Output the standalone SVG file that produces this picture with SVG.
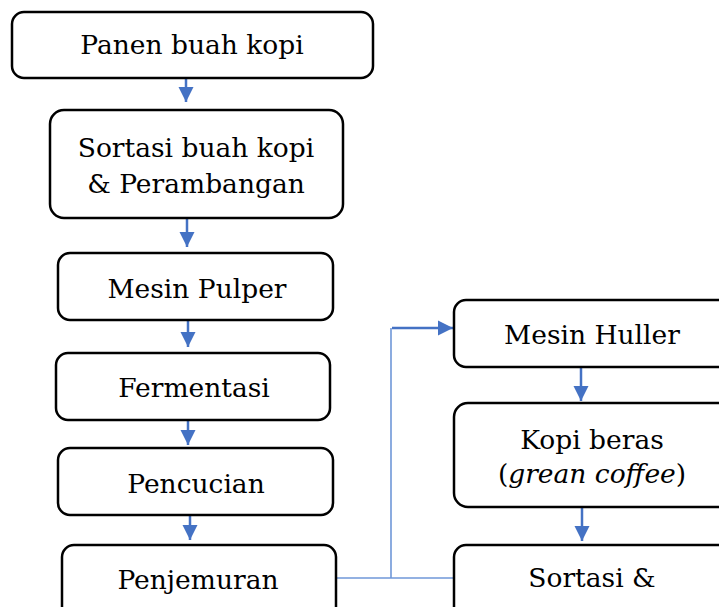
<svg xmlns="http://www.w3.org/2000/svg" width="719" height="607" viewBox="0 0 719 607">
<style>
.box{fill:#ffffff;stroke:#000000;stroke-width:2.5}
.t{font-family:"DejaVu Serif","Liberation Serif",serif;font-size:26.5px;fill:#000000;text-anchor:middle}
.arr{stroke:#4472C4;stroke-width:2.5;fill:none}
.thin{stroke:#6F97D8;stroke-width:1.6;fill:none}
</style>
<defs>
<marker id="ah" markerUnits="userSpaceOnUse" markerWidth="16" markerHeight="16" refX="15" refY="8" orient="auto" viewBox="0 0 16 16">
<path d="M0,0.5 L15,8 L0,15.5 Z" fill="#4472C4"/>
</marker>
</defs>
<rect width="719" height="607" fill="#ffffff"/>
<g id="connectors">
<line class="arr" x1="186" y1="78" x2="186" y2="102" marker-end="url(#ah)"/>
<line class="arr" x1="187" y1="218" x2="187" y2="247" marker-end="url(#ah)"/>
<line class="arr" x1="188" y1="320" x2="188" y2="347" marker-end="url(#ah)"/>
<line class="arr" x1="188" y1="420" x2="188" y2="445" marker-end="url(#ah)"/>
<line class="arr" x1="190" y1="515" x2="190" y2="540" marker-end="url(#ah)"/>
<line class="arr" x1="581" y1="367" x2="581" y2="401" marker-end="url(#ah)"/>
<line class="arr" x1="582" y1="507" x2="582" y2="541" marker-end="url(#ah)"/>
<polyline class="thin" points="336,578 454,578"/>
<polyline class="thin" points="391,578 391,328"/>
<line class="arr" x1="392" y1="328" x2="453" y2="328" marker-end="url(#ah)"/>
</g>
<g id="n1"><rect class="box" x="12" y="12" width="361" height="66" rx="12"/><text class="t" x="192" y="54">Panen buah kopi</text></g>
<g id="n2"><rect class="box" x="50" y="110" width="293" height="108" rx="14"/><text class="t" x="196" y="157">Sortasi buah kopi</text><text class="t" x="196" y="193">&amp; Perambangan</text></g>
<g id="n3"><rect class="box" x="58" y="253" width="275" height="67" rx="12"/><text class="t" x="197" y="298">Mesin Pulper</text></g>
<g id="n4"><rect class="box" x="56" y="353" width="274" height="67" rx="12"/><text class="t" x="194" y="397">Fermentasi</text></g>
<g id="n5"><rect class="box" x="58" y="448" width="275" height="67" rx="12"/><text class="t" x="196" y="493">Pencucian</text></g>
<g id="n6"><rect class="box" x="62" y="545" width="274" height="80" rx="12"/><text class="t" x="198" y="589">Penjemuran</text></g>
<g id="n7"><rect class="box" x="454" y="300" width="280" height="67" rx="12"/><text class="t" x="592" y="344">Mesin Huller</text></g>
<g id="n8"><rect class="box" x="454" y="403" width="280" height="104" rx="14"/><text class="t" x="592" y="449">Kopi beras</text><text class="t" x="592" y="483">(<tspan font-style="italic">grean coffee</tspan>)</text></g>
<g id="n9"><rect class="box" x="454" y="545" width="280" height="80" rx="12"/><text class="t" x="592" y="587">Sortasi &amp;</text></g>
</svg>
